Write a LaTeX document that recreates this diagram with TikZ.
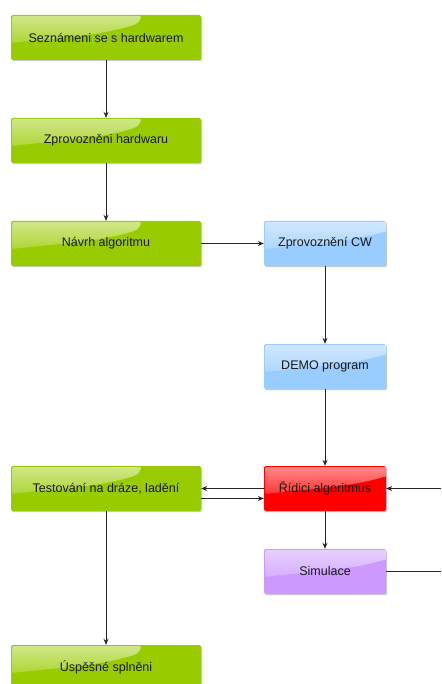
\documentclass[tikz,border=0pt]{standalone}
\usepackage{fontspec}
\setmainfont{Liberation Sans}
\usetikzlibrary{arrows.meta,shadows,fadings}
\definecolor{gboxc}{HTML}{99CC00}
\definecolor{bboxc}{HTML}{99CCFF}
\definecolor{rboxc}{HTML}{FF0000}
\definecolor{pboxc}{HTML}{CC99FF}
\tikzset{
  box/.style={draw=none, rounded corners=2pt, minimum height=45pt, inner sep=0pt,
    font=\fontsize{12.5}{15}\selectfont, text=black!90,
    drop shadow={shadow xshift=1pt, shadow yshift=-1.2pt, opacity=0.35, fill=black!60},
    path picture={
      \fill[white, path fading=south, fill opacity=0.55]
        ([xshift=1pt,yshift=-1pt]path picture bounding box.north west)
        -- ++(126pt,0)
        .. controls +(4pt,0pt) and +(6pt,3pt) .. ++(-4pt,-9pt)
        .. controls +(-40pt,-12pt) and +(40pt,5pt) .. ++(-122pt,-18pt)
        -- cycle;
    }},
  gbox/.style={box, fill=gboxc, minimum width=190pt},
  bbox/.style={box, fill=bboxc, minimum width=122pt},
  rbox/.style={box, fill=rboxc, minimum width=122pt},
  pbox/.style={box, fill=pboxc, minimum width=122pt},
  conn/.style={draw=black!85, line width=0.8pt, -{Stealth[length=6pt,width=5pt]}},
  plain/.style={draw=black!85, line width=0.8pt}
}
\begin{document}
\begin{tikzpicture}[x=1pt,y=1pt]
\useasboundingbox (0,0) rectangle (441,-684);
\clip (0,0) rectangle (441,-684);
\node[gbox] (b1) at (106,-37.5) {Seznámeni se s hardwarem};
\node[gbox] (b2) at (106,-140.5) {Zprovozněni hardwaru};
\node[gbox] (b3) at (106,-243.5) {Návrh algoritmu};
\node[gbox] (te) at (106,-488.5) {Testování na dráze, ladění};
\node[gbox] (us) at (106,-667.5) {Úspěšné splněni};
\node[bbox] (cw) at (325,-243.5) {Zprovoznění CW};
\node[bbox] (de) at (325,-366.5) {DEMO program};
\node[rbox] (ri) at (325,-488.5) {Řídici algoritmus};
\node[pbox] (si) at (325,-571.5) {Simulace};
\coordinate (rin) at (441,-488.5);
\coordinate (sout) at (441,-571.5);
\draw[conn] (b1) -- (b2);
\draw[conn] (b2) -- (b3);
\draw[conn] (b3) -- (cw);
\draw[conn] (cw) -- (de);
\draw[conn] (de) -- (ri);
\draw[conn] (ri) -- (te);
\draw[conn] ([yshift=-10pt]te.east) -- ([yshift=-10pt]ri.west);
\draw[conn] (rin) -- (ri);
\draw[conn] (ri) -- (si);
\draw[conn] (te) -- (us);
\draw[plain] (si) -- (sout);
\end{tikzpicture}
\end{document}
